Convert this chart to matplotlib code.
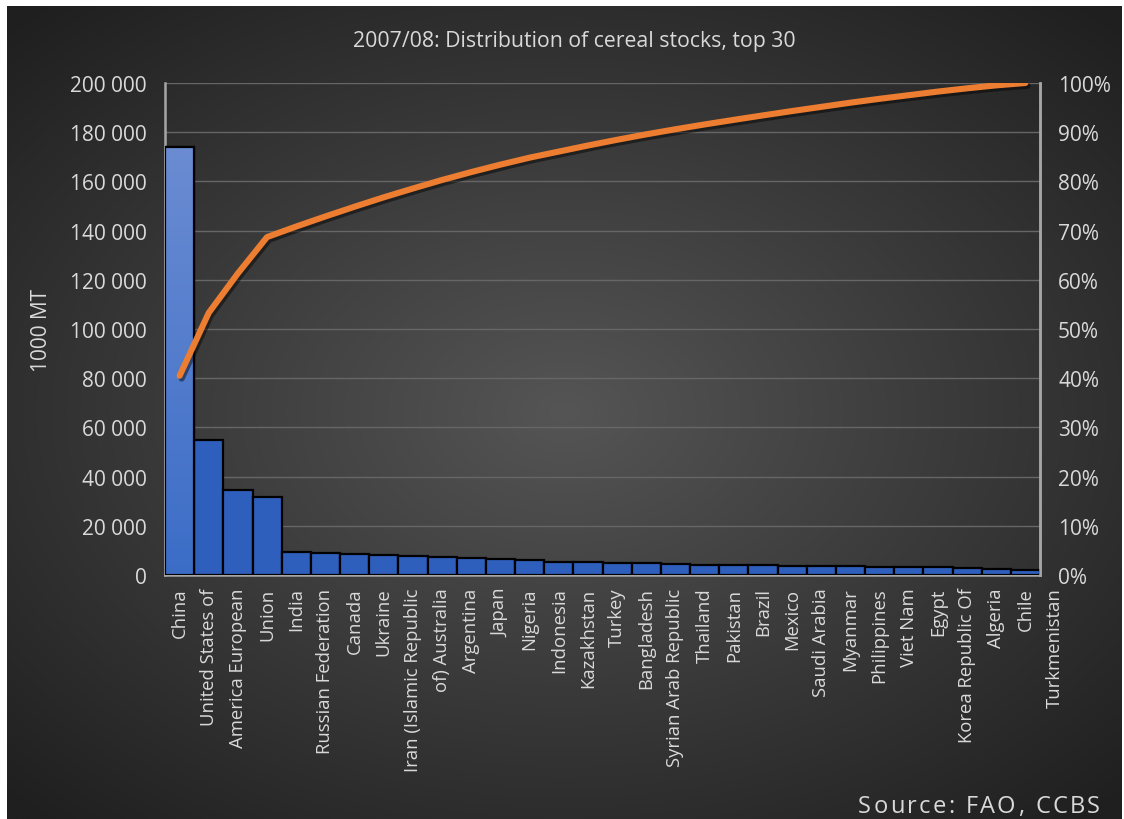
import numpy as np
import matplotlib

matplotlib.use("Agg")
import matplotlib.pyplot as plt
import matplotlib.patheffects as pe
from matplotlib.ticker import FuncFormatter, PercentFormatter

plt.rcParams["font.family"] = ["Open Sans", "DejaVu Sans"]

# tick labels as they appear (31 labels for 30 bars, the last one spills past the axis)
labels = [
    "China", "United States of", "America European", "Union", "India",
    "Russian Federation", "Canada", "Ukraine", "Iran (Islamic Republic",
    "of) Australia", "Argentina", "Japan", "Nigeria", "Indonesia", "Kazakhstan",
    "Turkey", "Bangladesh", "Syrian Arab Republic", "Thailand", "Pakistan",
    "Brazil", "Mexico", "Saudi Arabia", "Myanmar", "Philippines", "Viet Nam",
    "Egypt", "Korea Republic Of", "Algeria", "Chile", "Turkmenistan",
]
# stocks, 1000 MT, one value per bar
stocks = [
    174000, 55000, 34500, 31700, 9200, 8800, 8500, 8200, 7700, 7450,
    6900, 6500, 6100, 5300, 5300, 5000, 4750, 4450, 4200, 4000,
    3900, 3800, 3650, 3650, 3400, 3150, 3150, 2850, 2600, 2050,
]

cumulative = np.cumsum(stocks) / np.sum(stocks)
positions = np.arange(len(stocks))

W, H = 1124, 820
fig = plt.figure(figsize=(W / 100, H / 100), dpi=100, facecolor="white")

# dark radial gradient background
bg = fig.add_axes([7 / W, 0, (1122 - 7) / W, 813 / H], zorder=-10)
gy, gx = np.mgrid[-1:1:400j, -1:1:550j]
r = np.clip(np.sqrt((gx * 0.95) ** 2 + (gy * 1.0) ** 2) / 1.35, 0, 1)
inner = np.array([0x55, 0x55, 0x55]) / 255
outer = np.array([0x1f, 0x1f, 0x1f]) / 255
img = inner[None, None, :] * (1 - r[..., None]) + outer[None, None, :] * r[..., None]
bg.imshow(img, aspect="auto", extent=[0, 1, 0, 1])
bg.set_axis_off()

ax = fig.add_axes([165 / W, 1 - 576 / H, (1040 - 165) / W, (576 - 84) / H])
ax.set_facecolor("none")

bars = ax.bar(positions, stocks, width=1.0, color="#2f5fbd",
              edgecolor="black", linewidth=1.6, zorder=3)

# China bar has a light vertical gradient
china = bars[0]
grad = np.linspace(0, 1, 256)[:, None]
top_c = np.array([0x6b, 0x8c, 0xd2]) / 255
bot_c = np.array([0x3b, 0x6d, 0xc7]) / 255
gimg = top_c[None, None, :] * (1 - grad[..., None]) + bot_c[None, None, :] * grad[..., None]
gimg = np.repeat(gimg, 2, axis=1)
im = ax.imshow(gimg, extent=[-0.5, 0.5, 0, stocks[0]], aspect="auto", zorder=3.5)
im.set_clip_path(china)
ax.bar(positions[:1], stocks[:1], width=1.0, color="none",
       edgecolor="black", linewidth=1.6, zorder=4)

ax.set_xlim(-0.5, len(stocks) - 0.5)
ax.set_ylim(0, 200000)
ax.set_yticks(np.arange(0, 200001, 20000))
ax.yaxis.set_major_formatter(FuncFormatter(lambda v, p: f"{v:,.0f}".replace(",", " ")))
ax.set_xticks(positions)
ax.set_xticklabels(labels[:len(stocks)], rotation=90, ha="center", va="top")
ax.tick_params(axis="x", length=0, pad=9, labelsize=13.3, colors="#d9d9d9")
ax.tick_params(axis="y", length=0, pad=13, labelsize=15, colors="#d9d9d9")
ax.annotate(labels[-1], xy=(len(stocks), 0), xycoords=("data", "axes fraction"),
            xytext=(0, -9), textcoords="offset points", rotation=90,
            ha="center", va="top", fontsize=13.3, color="#d9d9d9",
            annotation_clip=False)

ax.grid(axis="y", color="#666666", linewidth=1.0, zorder=0)
ax.set_axisbelow(True)
ax.spines["top"].set_visible(False)
for side in ["left", "right", "bottom"]:
    ax.spines[side].set_color("#a6a6a6")
    ax.spines[side].set_linewidth(1.8)
ax.set_ylabel("1000 MT", fontsize=15, color="#d9d9d9", labelpad=13)

ax2 = ax.twinx()
ax2.plot(positions, cumulative, color="#ed7d31", linewidth=4.4,
         solid_capstyle="round", solid_joinstyle="round", zorder=5,
         path_effects=[pe.SimpleLineShadow(offset=(1.5, -2), shadow_color="black", alpha=0.45),
                       pe.Normal()])
ax2.set_ylim(0, 1)
ax2.set_yticks(np.arange(0, 1.01, 0.1))
ax2.yaxis.set_major_formatter(PercentFormatter(1.0, decimals=0))
ax2.tick_params(axis="y", length=0, pad=13, labelsize=15, colors="#d9d9d9")
for side in ["top", "left", "bottom"]:
    ax2.spines[side].set_visible(False)
ax2.spines["right"].set_color("#a6a6a6")
ax2.spines["right"].set_linewidth(1.8)

fig.text(574 / W, 1 - 42 / H, "2007/08: Distribution of cereal stocks, top 30",
         ha="center", va="center", fontsize=15.3, color="#d9d9d9")

# letter-spaced source note
fig.canvas.draw()
renderer = fig.canvas.get_renderer()
x = 858
for ch in "Source: FAO, CCBS":
    t = fig.text(x / W, 1 - 819 / H, ch, ha="left", va="bottom",
                 fontsize=17, color="#d9d9d9")
    w = t.get_window_extent(renderer).width if ch != " " else 6.5
    x += w + 2.3

fig.savefig("out.png", dpi=100, facecolor=fig.get_facecolor())
